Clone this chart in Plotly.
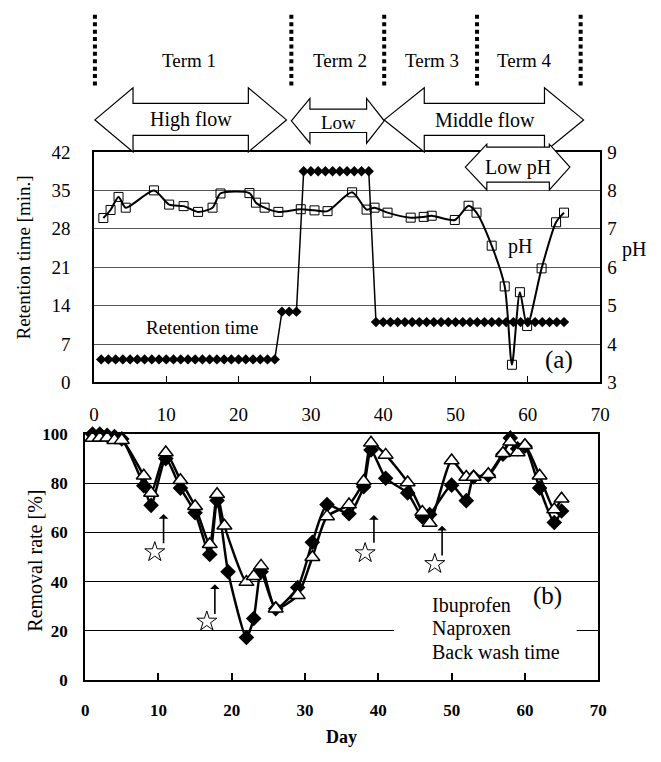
import plotly.graph_objects as go

W, H = 661, 762
FONT = "Liberation Serif, Times New Roman, Times, serif"


def PX(x):
    return x / W


def PY(y):
    return 1 - y / H


# ---------------- data: panel (a) ----------------
rt_days = [1, 2, 3, 4, 5, 6, 7, 8, 9, 10, 11, 12, 13, 14, 15, 16, 17, 18, 19, 20,
           21, 22, 23, 24, 25, 26, 27, 28, 29, 30, 31, 32, 33, 34, 35, 36, 37, 38,
           39, 40, 41, 42, 43, 44, 45, 46, 47, 48, 49, 50, 51, 52, 53, 54, 55, 56,
           57, 58, 59, 60, 61, 62, 63, 64, 65]
rt_vals = [4.2, 4.2, 4.2, 4.2, 4.2, 4.2, 4.2, 4.2, 4.2, 4.2, 4.2, 4.2, 4.2, 4.2,
           4.2, 4.2, 4.2, 4.2, 4.2, 4.2, 4.2, 4.2, 4.2, 4.2, 4.2,
           12.9, 12.9, 12.9,
           38.5, 38.5, 38.5, 38.5, 38.5, 38.5, 38.5, 38.5, 38.5, 38.5,
           11.0, 11.0, 11.0, 11.0, 11.0, 11.0, 11.0, 11.0, 11.0, 11.0, 11.0, 11.0,
           11.0, 11.0, 11.0, 11.0, 11.0, 11.0, 11.0, 11.0, 11.0, 11.0, 11.0, 11.0,
           11.0, 11.0, 11.0]

ph_days = [1.3, 2.3, 3.4, 4.4, 8.3, 10.4, 12.4, 14.4, 16.4, 17.5, 21.5, 22.4, 23.6,
           25.5, 28.6, 30.5, 32.3, 35.7, 37.7, 38.8, 40.6, 43.8, 45.6, 46.7, 49.9,
           51.8, 52.9, 55.0, 56.8, 57.8, 58.9, 59.9, 61.9, 63.9, 65.0]
ph_vals = [7.28, 7.49, 7.83, 7.55, 8.0, 7.63, 7.59, 7.44, 7.55, 7.92, 7.93, 7.68, 7.55,
           7.44, 7.51, 7.48, 7.46, 7.95, 7.5, 7.55, 7.42, 7.29, 7.31, 7.34, 7.23,
           7.6, 7.42, 6.56, 5.5, 3.46, 5.35, 4.47, 5.97, 7.17, 7.42]

# ---------------- data: panel (b) ----------------
ibu_days = [1, 2, 3, 4, 5, 8, 9, 11, 13, 15, 17, 18, 19.5, 22, 23, 24, 26, 29, 31, 33,
            36, 38, 39, 41, 44, 46, 47, 50, 52, 53, 55, 57, 58, 59, 60, 62, 64, 65]
ibu_vals = [100, 100, 99.5, 99, 98, 79, 71, 90, 78, 68, 51, 73, 44, 17.3, 25, 44, 29,
            37.6, 56, 71.3, 67.6, 78.6, 93.5, 82, 76, 66.3, 67.3, 79.2, 72.9, 82.5,
            83.2, 91.8, 98.4, 94, 95, 78, 64, 68.7]

nap_days = [1, 2, 3, 4, 5, 8, 9, 11, 13, 15, 17, 18, 19, 22, 23, 24, 26, 29, 31, 33,
            36, 38, 39, 41, 44, 46, 47, 50, 52, 53, 55, 57, 58, 59, 60, 62, 64, 65]
nap_vals = [98.4, 98.5, 98.5, 97.5, 97.5, 83, 76, 92.5, 81.2, 70.6, 55.2, 75.5, 62.7,
            39.8, 42.2, 46.4, 29, 34.5, 49.9, 66.5, 71.3, 80.8, 96.4, 91.5, 80.3,
            68.3, 63.8, 89.2, 82.5, 82.5, 83.6, 92.2, 96.8, 92.5, 95.4, 83, 69.3, 73.7]

star_days = [9.5, 16.6, 38.2, 47.7]
star_vals = [52.0, 23.8, 51.6, 47.2]
arrow_days = [10.7, 17.7, 39.4, 48.7]
arrow_from = [55.0, 26.2, 55.2, 50.0]
arrow_to = [67.5, 38.9, 67.1, 62.7]

x_ticks = [0, 10, 20, 30, 40, 50, 60, 70]
rt_ticks = [0, 7, 14, 21, 28, 35, 42]
ph_ticks = [3, 4, 5, 6, 7, 8, 9]
rr_ticks = [0, 20, 40, 60, 80, 100]

term_labels = ["Term 1", "Term 2", "Term 3", "Term 4"]
legend_labels = ["Ibuprofen", "Naproxen", "Back wash time"]

# ---------------- figure ----------------
fig = go.Figure()

fig.add_trace(go.Scatter(
    x=rt_days, y=rt_vals, xaxis="x", yaxis="y", mode="lines+markers",
    line=dict(color="black", width=1.5),
    marker=dict(symbol="diamond", size=8, color="black"),
    showlegend=False))

fig.add_trace(go.Scatter(
    x=ph_days, y=ph_vals, xaxis="x", yaxis="y3", mode="lines+markers",
    line=dict(color="black", width=2, shape="spline", smoothing=0.7),
    marker=dict(symbol="square-open", size=9, color="black", line=dict(width=1)),
    showlegend=False))

fig.add_trace(go.Scatter(
    x=ibu_days, y=ibu_vals, xaxis="x2", yaxis="y2", mode="lines+markers",
    line=dict(color="black", width=2.5, shape="spline", smoothing=0.6),
    marker=dict(symbol="diamond", size=12, color="black"),
    cliponaxis=False, showlegend=False))

fig.add_trace(go.Scatter(
    x=nap_days, y=nap_vals, xaxis="x2", yaxis="y2", mode="lines+markers",
    line=dict(color="black", width=2.5, shape="spline", smoothing=0.6),
    marker=dict(symbol="triangle-up", size=13, color="white",
                line=dict(color="black", width=1.5)),
    cliponaxis=False, showlegend=False))

fig.add_trace(go.Scatter(
    x=star_days, y=star_vals, xaxis="x2", yaxis="y2", mode="markers",
    marker=dict(symbol="star-open", size=15, color="black", line=dict(width=1)),
    showlegend=False))

tick_font_a = dict(family=FONT, size=19, color="black")
tick_font_b = dict(family=FONT, size=17, color="black", weight="bold")

fig.update_layout(
    width=W, height=H,
    margin=dict(l=0, r=0, t=0, b=0),
    paper_bgcolor="white", plot_bgcolor="white",
    font=dict(family=FONT, color="black"),
    xaxis=dict(domain=[PX(91), PX(609)], anchor="y", range=[0, 70],
               tickvals=x_ticks, ticks="inside", ticklen=7, tickwidth=1,
               tickcolor="black", showline=True, mirror=True, linecolor="black",
               linewidth=1.5, showgrid=False, zeroline=False,
               tickfont=tick_font_a, ticklabelstandoff=14),
    yaxis=dict(domain=[PY(383), PY(146)], anchor="x", range=[0, 42],
               tickvals=rt_ticks, ticks="", showline=True, mirror=True,
               linecolor="black", linewidth=1.5, showgrid=True,
               gridcolor="#555555", gridwidth=1, zeroline=False,
               tickfont=tick_font_a, ticklabelstandoff=18),
    yaxis3=dict(overlaying="y", side="right", anchor="x", range=[3, 9],
                tickvals=ph_ticks, ticks="", showgrid=False, zeroline=False,
                tickfont=tick_font_a, ticklabelstandoff=6),
    xaxis2=dict(domain=[PX(82), PX(607)], anchor="y2", range=[0, 70],
                tickvals=x_ticks, ticks="inside", ticklen=7, tickwidth=1.5,
                tickcolor="black", showline=True, mirror=True, linecolor="black",
                linewidth=2, showgrid=False, zeroline=False,
                tickfont=tick_font_b, ticklabelstandoff=14),
    yaxis2=dict(domain=[PY(689), PY(436)], anchor="x2", range=[0, 100],
                tickvals=rr_ticks, ticks="", showline=True, mirror=True,
                linecolor="black", linewidth=2, showgrid=True,
                gridcolor="black", gridwidth=1, zeroline=False,
                tickfont=tick_font_b, ticklabelstandoff=12),
)

shapes = []
# dotted term boundaries
for xb in [92, 293, 388, 483, 589]:
    shapes.append(dict(type="line", xref="paper", yref="paper",
                       x0=PX(xb), x1=PX(xb), y0=PY(5), y1=PY(78),
                       line=dict(color="black", width=4, dash="4px,3.4px")))


def block_arrow(xl, xr, sl, sr, ytop, ybot, stop, sbot):
    yc = (ytop + ybot) / 2
    pts = [(xl, yc), (sl, ytop), (sl, stop), (sr, stop), (sr, ytop), (xr, yc),
           (sr, ybot), (sr, sbot), (sl, sbot), (sl, ybot)]
    path = "M " + " L ".join(f"{PX(a):.5f},{PY(b):.5f}" for a, b in pts) + " Z"
    return dict(type="path", xref="paper", yref="paper", path=path,
                fillcolor="white", line=dict(color="black", width=1.2),
                layer="above")


shapes.append(block_arrow(92, 288, 131, 249, 80, 146, 96, 129))     # High flow
shapes.append(block_arrow(293, 388, 312, 370, 91, 137, 102, 126))   # Low
shapes.append(block_arrow(388, 592, 429, 552, 80, 146, 96, 129))    # Middle flow
shapes.append(block_arrow(471, 578, 493, 557, 138, 185, 141, 177))  # Low pH

# white legend box in (b)
shapes.append(dict(type="rect", xref="paper", yref="paper",
                   x0=PX(398), x1=PX(585), y0=PY(674), y1=PY(594),
                   fillcolor="white", line=dict(width=0), layer="above"))
fig.update_layout(shapes=shapes)

ann = []


def txt(x, y, s, size=19, **kw):
    d = dict(x=PX(x), y=PY(y), xref="paper", yref="paper", text=s,
             showarrow=False, font=dict(family=FONT, size=size, color="black"),
             xanchor="center", yanchor="middle")
    d.update(kw)
    ann.append(d)


for lab, xc in zip(term_labels, [188, 343, 437, 532]):
    txt(xc, 52, lab, 19)

txt(190, 113, "High flow", 20)
txt(341, 116, "Low", 19)
txt(491, 113, "Middle flow", 20)
txt(525, 162, "Low pH", 20)

txt(202, 327, "Retention time", 19)
txt(527, 243, "pH", 20)
txt(567, 360, "(a)", 25)
txt(644, 246, "pH", 20)
txt(19, 255, "Retention time [min.]", 19, textangle=-90)

txt(31, 566, "Removal rate [%]", 20, textangle=-90)
txt(555, 603, "(b)", 25)
for lab, yy in zip(legend_labels, [612, 636, 660]):
    txt(435, yy, lab, 20, xanchor="left")
ann.append(dict(x=PX(344), y=PY(748), xref="paper", yref="paper", text="Day",
                showarrow=False, xanchor="center", yanchor="middle",
                font=dict(family=FONT, size=18, color="black", weight="bold")))

for xa, y0, y1 in zip(arrow_days, arrow_from, arrow_to):
    ann.append(dict(x=xa, y=y1, ax=xa, ay=y0, xref="x2", yref="y2",
                    axref="x2", ayref="y2", text="", showarrow=True,
                    arrowhead=1, arrowsize=1, arrowwidth=1.6,
                    arrowcolor="black"))

fig.update_layout(annotations=ann)

fig.write_html(
    "out.html",
    config={"displayModeBar": False},
    post_script="document.body.style.margin='0';document.body.style.padding='0';",
)
